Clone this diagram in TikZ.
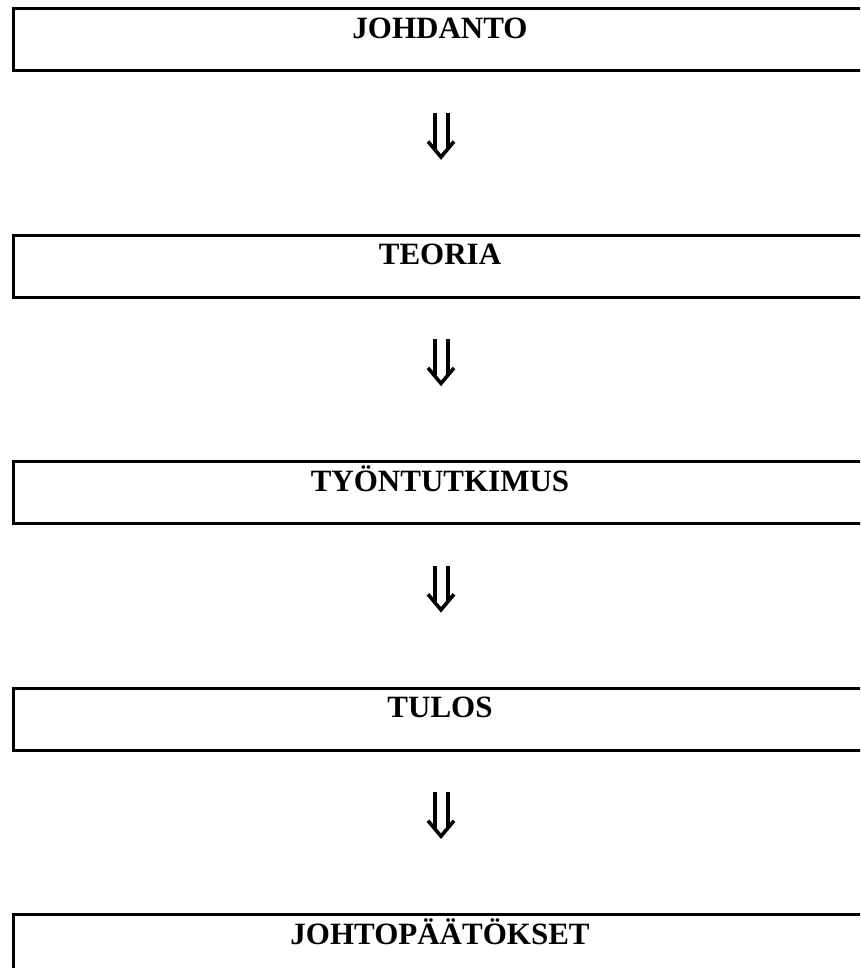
\documentclass[tikz,border=0pt]{standalone}
\usepackage{fontspec}
\setmainfont{Liberation Serif}
\begin{document}
\begin{tikzpicture}[x=1pt, y=-1pt,
  stagebox/.style={draw, line width=3pt, rectangle, anchor=north west,
    minimum width=900pt, minimum height=62pt, inner sep=0pt},
  stagetext/.style={anchor=base, inner sep=0pt,
    font=\fontsize{31}{37}\selectfont\bfseries},
  dblarrow/.pic={
    \draw[line width=4pt, line cap=butt] (-6.5,0) -- (-6.5,36);
    \draw[line width=4pt, line cap=butt] (6.5,0) -- (6.5,36);
    \draw[line width=3.6pt, line join=miter, line cap=butt]
      (-13,28.5) -- (0,44) -- (13,28.5);
  }]
\useasboundingbox (0,0) rectangle (860,968);
\clip (0,0) rectangle (860,968);

% five stages, stacked top to bottom
\node[stagebox] (b1) at (11.5,7.5)   {};
\node[stagebox] (b2) at (11.5,233.9) {};
\node[stagebox] (b3) at (11.5,460.3) {};
\node[stagebox] (b4) at (11.5,686.7) {};
\node[stagebox] (b5) at (11.5,913.1) {};

\node[stagetext] (t1) at (440,38.5)  {JOHDANTO};
\node[stagetext] (t2) at (440,264.9) {TEORIA};
\node[stagetext] (t3) at (440,491.3) {TYÖNTUTKIMUS};
\node[stagetext] (t4) at (440,717.7) {TULOS};
\node[stagetext] (t5) at (440,944.1) {JOHTOPÄÄTÖKSET};

% double arrows between the stages
\coordinate (a1) at (441,113);
\coordinate (a2) at (441,339.4);
\coordinate (a3) at (441,565.8);
\coordinate (a4) at (441,792.2);
\pic at (a1) {dblarrow};
\pic at (a2) {dblarrow};
\pic at (a3) {dblarrow};
\pic at (a4) {dblarrow};
\end{tikzpicture}
\end{document}
